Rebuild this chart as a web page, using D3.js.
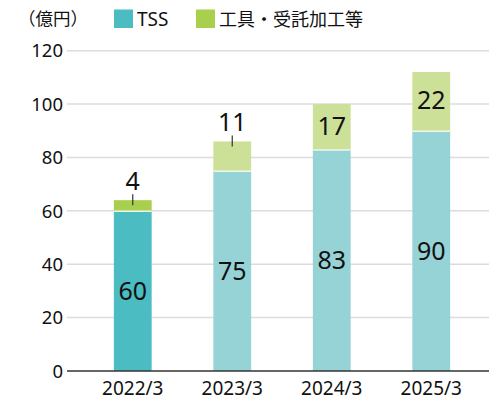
<!DOCTYPE html>
<meta charset="utf-8">
<style>
body { margin: 0; background: #fff; }
text { font-family: "Noto Sans", "Noto Sans CJK JP", sans-serif; fill: #111; }
.grid line { stroke: #dcdcdc; stroke-width: 1.5px; }
</style>
<body>
<script src="https://d3js.org/d3.v7.min.js"></script>
<script>
// data (億円)
var years = ["2022/3", "2023/3", "2024/3", "2025/3"];
var tss = [60, 75, 83, 90];
var tools = [4, 11, 17, 22];
var yTicks = [0, 20, 40, 60, 80, 100, 120];
var seriesNames = ["TSS", "工具・受託加工等"];
var unitLabel = "（億円）";

var width = 489, height = 401;

var svg = d3.select("body").append("svg")
    .attr("width", width)
    .attr("height", height);

var x = d3.scaleBand().domain(years).range([83, 481]).paddingInner(0.62).paddingOuter(0.31);
var y = d3.scaleLinear().domain([0, 120]).range([371, 50.7]);

// colours: first year darker (actual), others lighter (plan)
var tssColor = function(i) { return i === 0 ? "#4bbcc2" : "#96d3d6"; };
var toolColor = function(i) { return i === 0 ? "#a8d04e" : "#cde098"; };

// gridlines
svg.append("g").attr("class", "grid")
  .selectAll("line").data(yTicks.slice(1)).enter().append("line")
    .attr("x1", 67).attr("x2", width)
    .attr("y1", function(d) { return y(d); })
    .attr("y2", function(d) { return y(d); });

// y tick labels
svg.append("g").selectAll("text").data(yTicks).enter().append("text")
    .attr("x", 63)
    .attr("y", function(d) { return y(d); })
    .attr("dy", "0.36em")
    .attr("text-anchor", "end")
    .style("font-size", "18.5px")
    .text(function(d) { return d; });

var bars = svg.append("g").selectAll("g").data(years).enter().append("g");

bars.append("rect")
    .attr("x", function(d) { return x(d); })
    .attr("width", x.bandwidth())
    .attr("y", function(d, i) { return y(tss[i]); })
    .attr("height", function(d, i) { return y(0) - y(tss[i]); })
    .attr("fill", function(d, i) { return tssColor(i); });

bars.append("rect")
    .attr("x", function(d) { return x(d); })
    .attr("width", x.bandwidth())
    .attr("y", function(d, i) { return y(tss[i] + tools[i]); })
    .attr("height", function(d, i) { return y(tss[i]) - y(tss[i] + tools[i]); })
    .attr("fill", function(d, i) { return toolColor(i); });

// thin separator
bars.append("line")
    .attr("x1", function(d) { return x(d); })
    .attr("x2", function(d) { return x(d) + x.bandwidth(); })
    .attr("y1", function(d, i) { return y(tss[i]) + 0.5; })
    .attr("y2", function(d, i) { return y(tss[i]) + 0.5; })
    .attr("stroke", "#eef6e4")
    .attr("stroke-width", 1.5);

// TSS labels
bars.append("text")
    .attr("x", function(d) { return x(d) + x.bandwidth() / 2; })
    .attr("y", function(d, i) { return (y(0) + y(tss[i])) / 2; })
    .attr("dy", "0.36em")
    .attr("text-anchor", "middle")
    .style("font-size", "25px")
    .text(function(d, i) { return tss[i]; });

// small segments get label above with a leader tick
var small = function(i) { return tools[i] < 15; };

bars.append("text")
    .attr("x", function(d) { return x(d) + x.bandwidth() / 2; })
    .attr("y", function(d, i) {
      return small(i) ? y(tss[i] + tools[i]) - 19 : (y(tss[i]) + y(tss[i] + tools[i])) / 2 - 1;
    })
    .attr("dy", "0.36em")
    .attr("text-anchor", "middle")
    .style("font-size", "25px")
    .text(function(d, i) { return tools[i]; });

bars.filter(function(d, i) { return small(i); }).append("line")
    .attr("x1", function(d) { return x(d) + x.bandwidth() / 2; })
    .attr("x2", function(d) { return x(d) + x.bandwidth() / 2; })
    .attr("y1", function(d) { var i = years.indexOf(d); return y(tss[i] + tools[i]) - 6; })
    .attr("y2", function(d) { var i = years.indexOf(d); return y(tss[i] + tools[i]) + 5; })
    .attr("stroke", "#333")
    .attr("stroke-width", 1.2);

// x axis
svg.append("line")
    .attr("x1", 67).attr("x2", width)
    .attr("y1", y(0)).attr("y2", y(0))
    .attr("stroke", "#333").attr("stroke-width", 1.5);

svg.append("g").selectAll("text").data(years).enter().append("text")
    .attr("x", function(d) { return x(d) + x.bandwidth() / 2; })
    .attr("y", 394.5)
    .attr("text-anchor", "middle")
    .style("font-size", "19px")
    .text(function(d) { return d; });

// legend
svg.append("text")
    .attr("x", 18).attr("y", 25)
    .style("font-size", "17.5px")
    .text(unitLabel);

var legendX = [114, 196];
var legend = svg.append("g").selectAll("g").data(seriesNames).enter().append("g")
    .attr("transform", function(d, i) { return "translate(" + legendX[i] + ",0)"; });

legend.append("rect")
    .attr("y", 9.5).attr("width", 19).attr("height", 18.5)
    .attr("fill", function(d, i) { return i === 0 ? tssColor(0) : toolColor(0); });

legend.append("text")
    .attr("x", 23).attr("y", 26)
    .style("font-size", function(d, i) { return i === 0 ? "19px" : "18px"; })
    .text(function(d) { return d; });
</script>
